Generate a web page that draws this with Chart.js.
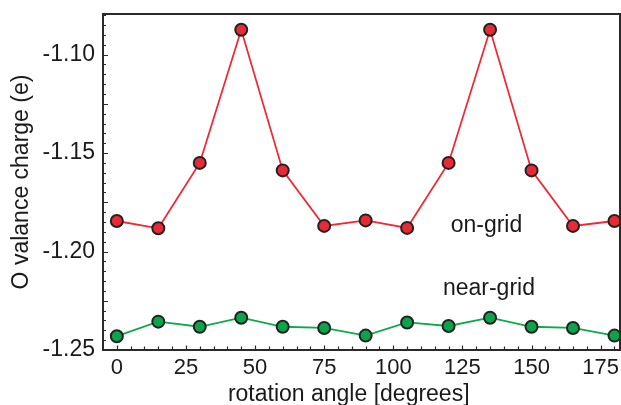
<!DOCTYPE html>
<html>
<head>
<meta charset="utf-8">
<script src="https://cdn.jsdelivr.net/npm/chart.js@4/dist/chart.umd.min.js"></script>
<style>
html,body{margin:0;padding:0;background:#fff;}
#wrap{width:621px;height:405px;position:relative;}
</style>
</head>
<body>
<div id="wrap"><canvas id="c" width="621" height="405"></canvas></div>
<script>
const angles = [0, 15, 30, 45, 60, 75, 90, 105, 120, 135, 150, 165, 180];
const onGrid = [-1.1845, -1.1882, -1.1550, -1.0874, -1.1588, -1.1870, -1.1842, -1.1880, -1.1550, -1.0874, -1.1588, -1.1870, -1.1845];
const nearGrid = [-1.2430, -1.2356, -1.2382, -1.2336, -1.2382, -1.2388, -1.2427, -1.2360, -1.2378, -1.2336, -1.2382, -1.2388, -1.2427];
const xTickLabels = [0, 25, 50, 75, 100, 125, 150, 175];
const yTickLabels = [-1.25, -1.20, -1.15, -1.10];
const seriesLabels = ['on-grid', 'near-grid'];
const seriesLabelPos = [[133.7, -1.1869], [134.6, -1.2190]];

const FONT = "'Liberation Sans', Arial, Helvetica, sans-serif";
const AXIS = '#2a2a2a';

function noPad(s) { s.paddingTop = 0; s.paddingBottom = 0; s.paddingLeft = 0; s.paddingRight = 0; }

const frameTicks = {
  id: 'frameTicks',
  afterDraw(chart) {
    const {ctx, chartArea: a, scales: {x, y}} = chart;
    ctx.save();
    ctx.strokeStyle = AXIS;
    ctx.lineWidth = 2;
    ctx.strokeRect(a.left, a.top, a.right - a.left, a.bottom - a.top);
    ctx.lineWidth = 1.2;
    ctx.beginPath();
    for (let v = 0; v <= x.max + 1e-9; v += 5) {
      const px = Math.round(x.getPixelForValue(v)) + 0.5;
      const len = (v % 25 === 0) ? 4.5 : 3.5;
      ctx.moveTo(px, a.bottom);
      ctx.lineTo(px, a.bottom - len);
    }
    for (let i = 0; ; i++) {
      const v = -1.25 + i * 0.005;
      if (v > y.max + 1e-9) break;
      const py = Math.round(y.getPixelForValue(v)) + 0.5;
      const len = (i % 5 === 0) ? 5 : 3;
      ctx.moveTo(a.left, py);
      ctx.lineTo(a.left + len, py);
    }
    ctx.stroke();
    ctx.fillStyle = '#1a1a1a';
    ctx.font = '23px ' + FONT;
    ctx.textAlign = 'center';
    ctx.textBaseline = 'middle';
    seriesLabels.forEach((t, i) => {
      ctx.fillText(t, x.getPixelForValue(seriesLabelPos[i][0]), y.getPixelForValue(seriesLabelPos[i][1]));
    });
    ctx.restore();
  }
};

new Chart(document.getElementById('c'), {
  type: 'line',
  data: {
    datasets: [
      {
        label: seriesLabels[0],
        data: angles.map((a, i) => ({x: a, y: onGrid[i]})),
        borderColor: '#ee2a36',
        borderWidth: 1.8,
        backgroundColor: '#e82a36',
        pointBackgroundColor: '#e82a36',
        pointBorderColor: '#222',
        pointBorderWidth: 2,
        pointRadius: 6,
        tension: 0
      },
      {
        label: seriesLabels[1],
        data: angles.map((a, i) => ({x: a, y: nearGrid[i]})),
        borderColor: '#0eaa4a',
        borderWidth: 1.8,
        backgroundColor: '#0aa44a',
        pointBackgroundColor: '#0aa44a',
        pointBorderColor: '#222',
        pointBorderWidth: 2,
        pointRadius: 6,
        tension: 0
      }
    ]
  },
  options: {
    responsive: false,
    animation: false,
    devicePixelRatio: 1,
    layout: {autoPadding: false, padding: {top: 14, right: 1, left: 0, bottom: 0}},
    plugins: {legend: {display: false}, tooltip: {enabled: false}},
    scales: {
      x: {
        type: 'linear',
        min: -5,
        max: 182,
        afterFit: s => { s.height = 55; noPad(s); },
        afterBuildTicks: s => { s.ticks = xTickLabels.map(v => ({value: v})); },
        grid: {display: false, drawTicks: false},
        border: {display: false},
        ticks: {
          autoSkip: false,
          maxRotation: 0,
          padding: 5,
          color: '#1a1a1a',
          font: {family: FONT, size: 22},
          callback: v => String(v)
        },
        title: {
          display: true,
          text: 'rotation angle [degrees]    ',
          color: '#1a1a1a',
          font: {family: FONT, size: 23},
          padding: {top: 0, bottom: -3}
        }
      },
      y: {
        type: 'linear',
        min: -1.25,
        max: -1.0794,
        afterFit: s => { s.width = 103; noPad(s); },
        afterBuildTicks: s => { s.ticks = yTickLabels.map(v => ({value: v})); },
        grid: {display: false, drawTicks: false},
        border: {display: false},
        ticks: {
          autoSkip: false,
          padding: 8,
          color: '#1a1a1a',
          font: {family: FONT, size: 23},
          callback: v => v.toFixed(2)
        },
        title: {
          display: true,
          text: 'O valance charge (e)',
          color: '#1a1a1a',
          font: {family: FONT, size: 23},
          padding: {top: 8, bottom: 0}
        }
      }
    }
  },
  plugins: [frameTicks]
});
</script>
</body>
</html>
